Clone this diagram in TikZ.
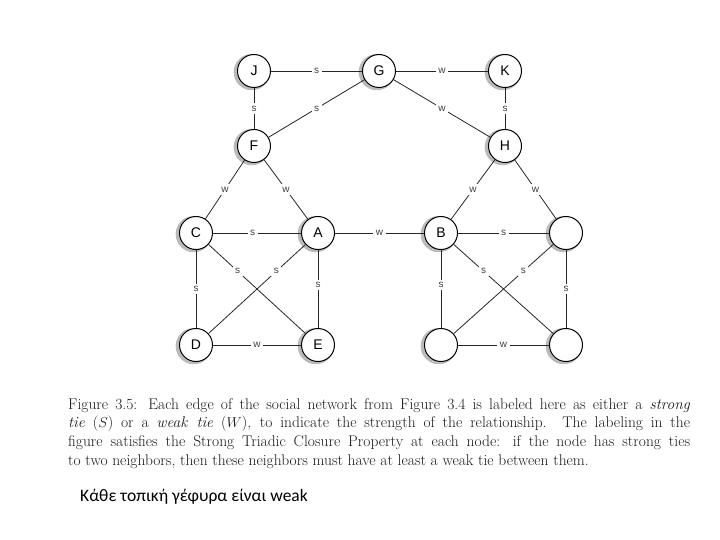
\documentclass[tikz,border=0pt]{standalone}
\usepackage{fontspec}
\setsansfont{Liberation Sans}
\newfontfamily\greekfont{Carlito}
\usetikzlibrary{positioning,shadows}
\tikzset{
  person/.style={
    circle, draw=black, line width=1pt, fill=white,
    minimum size=33pt, inner sep=0pt,
    font=\sffamily\fontsize{14}{14}\selectfont,
    drop shadow={shadow scale=1.1, shadow xshift=-2pt, shadow yshift=-1pt,
      fill=black!45, opacity=0.6}
  },
  tie/.style={draw=black!85, line width=0.8pt},
  lbl/.style={fill=white, inner sep=2.5pt, text=black!75,
    font=\sffamily\fontsize{10}{10}\selectfont}
}

\begin{document}
\begin{tikzpicture}[x=1pt, y=-1pt, on grid]
    \useasboundingbox (0,0) rectangle (720,540);
    % top row
    \node[person] (G) at (379,71) {G};
    \node[person,left=125pt of G] (J) {J};
    \node[person,right=126pt of G] (K) {K};
    \node[person,below=75pt of J] (F) {F};
    \node[person,below=75pt of K] (H) {H};
    % middle row
    \node[person,below left=87pt and 58pt of F] (C) {C};
    \node[person,below right=87pt and 64pt of F] (A) {A};
    \node[person,right=123pt of A] (B) {B};
    \node[person,right=125pt of B] (P) {};
    % bottom row
    \node[person,below=112pt of C] (D) {D};
    \node[person,below=112pt of A] (E) {E};
    \node[person,below=112pt of B] (Q) {};
    \node[person,below=112pt of P] (R) {};
    \draw[tie] (J)--node[lbl]{s}(G);
    \draw[tie] (G)--node[lbl]{w}(K);
    \draw[tie] (J)--node[lbl]{s}(F);
    \draw[tie] (G)--node[lbl]{s}(F);
    \draw[tie] (G)--node[lbl]{w}(H);
    \draw[tie] (K)--node[lbl]{s}(H);
    \draw[tie] (F)--node[lbl]{w}(C);
    \draw[tie] (F)--node[lbl]{w}(A);
    \draw[tie] (H)--node[lbl]{w}(B);
    \draw[tie] (H)--node[lbl]{w}(P);
    \draw[tie] (C)--node[lbl,pos=0.45]{s}(A);
    \draw[tie] (A)--node[lbl]{w}(B);
    \draw[tie] (B)--node[lbl]{s}(P);
    \draw[tie] (C)--node[lbl]{s}(D);
    \draw[tie] (C)--node[lbl,pos=0.3]{s}(E);
    \draw[tie] (A)--node[lbl,pos=0.3]{s}(D);
    \draw[tie] (A)--node[lbl,pos=0.45]{s}(E);
    \draw[tie] (D)--node[lbl]{w}(E);
    \draw[tie] (B)--node[lbl,pos=0.45]{s}(Q);
    \draw[tie] (B)--node[lbl,pos=0.3]{s}(R);
    \draw[tie] (P)--node[lbl,pos=0.3]{s}(Q);
    \draw[tie] (P)--node[lbl]{s}(R);
    \draw[tie] (Q)--node[lbl]{w}(R);
    % caption and note
    \node[anchor=north west, text width=622pt, inner sep=0pt, align=justify,
      text=black!90, font=\fontsize{15.5}{18.7}\selectfont] (caption) at (68,398)
      {Figure 3.5: Each edge of the social network from Figure 3.4 is labeled here as either a \emph{strong}\linebreak
       \emph{tie} ($S$) or a \emph{weak tie} ($W$), to indicate the strength of the relationship. The labeling in the\linebreak
       figure satisfies the Strong Triadic Closure Property at each node: if the node has strong ties\linebreak
       to two neighbors, then these neighbors must have at least a weak tie between them.};
    \node[anchor=base west, inner sep=0pt, font=\greekfont\fontsize{17.5}{18}\selectfont] (note) at (80,501)
      {Κάθε τοπική γέφυρα είναι weak};
\end{tikzpicture}
\end{document}
